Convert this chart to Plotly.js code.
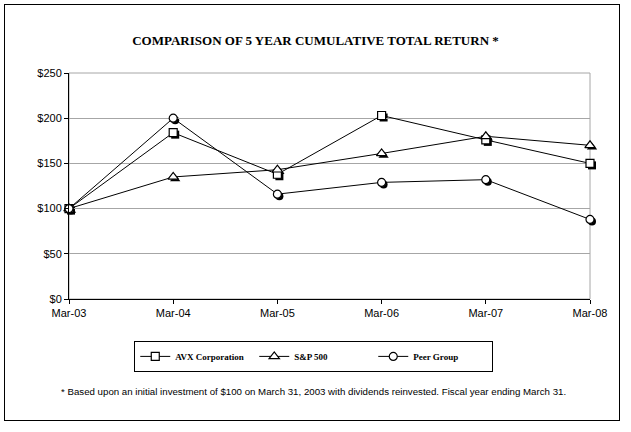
<!DOCTYPE html>
<html>
<head>
<meta charset="utf-8">
<script src="https://cdn.plot.ly/plotly-3.0.1.min.js"></script>
<style>
  html, body { margin: 0; padding: 0; background: #fff; }
  #wrap { position: relative; width: 631px; height: 432px; }
  #chart { position: absolute; left: 0; top: 0; width: 631px; height: 432px; }
  #frame { position: absolute; left: 4px; top: 4px; width: 614px; height: 415px;
           border: 1.5px solid #000; pointer-events: none; }
</style>
</head>
<body>
<div id="wrap">
  <div id="chart"></div>
  <div id="frame"></div>
</div>
<script>
const categories = ["Mar-03", "Mar-04", "Mar-05", "Mar-06", "Mar-07", "Mar-08"];
const avx = [100, 184, 138, 203, 176, 150];
const sp500 = [100, 135, 143, 161, 180, 170];
const peer = [100, 200, 116, 129, 132, 88];
const seriesNames = ["AVX Corporation", "S&P 500", "Peer Group"];
const yTicks = [0, 50, 100, 150, 200, 250];

const symbols = ["square", "triangle-up", "circle"];
const sizes = [8, 9, 8];
const data = [avx, sp500, peer];

const traces = [];
// shadows (drawn first, on the offset subplot)
data.forEach((vals, i) => {
  traces.push({
    x: categories, y: vals, xaxis: "x", yaxis: "y",
    mode: "markers", showlegend: false, hoverinfo: "skip", cliponaxis: false,
    marker: { symbol: symbols[i], size: sizes[i], color: "#000", line: { width: 0 } }
  });
});
// main series
data.forEach((vals, i) => {
  traces.push({
    x: categories, y: vals, xaxis: "x2", yaxis: "y2",
    name: seriesNames[i], type: "scatter", mode: "lines+markers", cliponaxis: false,
    line: { color: "#000", width: 1 },
    marker: { symbol: symbols[i], size: sizes[i], color: "#fff", line: { color: "#000", width: 1.2 } }
  });
});

const plotW = 523, plotH = 228;
const layout = {
  width: 631, height: 432,
  margin: { l: 69, r: 39, t: 73, b: 131 },
  paper_bgcolor: "#fff", plot_bgcolor: "rgba(0,0,0,0)",
  showlegend: true,
  title: {
    text: "COMPARISON OF 5 YEAR CUMULATIVE TOTAL RETURN *",
    font: { family: "Liberation Serif", size: 13, color: "#000", weight: "bold" },
    x: 0.5, xref: "container", xanchor: "center",
    y: 1 - 40 / 432, yref: "container", yanchor: "middle"
  },
  xaxis: {
    type: "category", range: [0, 5], domain: [2 / plotW, 1],
    visible: false, fixedrange: true
  },
  yaxis: {
    range: [0, 250], domain: [0, 226 / plotH],
    visible: false, fixedrange: true
  },
  xaxis2: {
    type: "category", range: [0, 5], domain: [0, 521 / plotW], anchor: "y2",
    showline: true, linecolor: "#000", linewidth: 1,
    ticks: "outside", ticklen: 4, tickcolor: "#000", tickwidth: 1,
    showgrid: false, zeroline: false,
    tickfont: { family: "Liberation Sans", size: 11, color: "#000" }
  },
  yaxis2: {
    range: [0, 250], domain: [2 / plotH, 1], anchor: "x2",
    tickvals: yTicks, ticktext: yTicks.map(v => "$" + v),
    showline: true, linecolor: "#000", linewidth: 1,
    ticks: "outside", ticklen: 4, tickcolor: "#000", tickwidth: 1,
    showgrid: true, gridcolor: "#a6a6a6", gridwidth: 1, zeroline: false,
    tickfont: { family: "Liberation Sans", size: 11, color: "#000" }
  },
  shapes: [{
    type: "rect", xref: "x2 domain", yref: "y2 domain",
    x0: 0, x1: 1, y0: 0, y1: 1,
    line: { color: "#a6a6a6", width: 1 }, layer: "below"
  }],
  legend: {
    orientation: "h", x: 0.468, xanchor: "center", xref: "paper",
    y: -0.243, yanchor: "middle",
    bordercolor: "#000", borderwidth: 1, bgcolor: "#fff",
    font: { family: "Liberation Serif", size: 9, color: "#000", weight: "bold" },
    itemwidth: 30,
    entrywidth: 74, entrywidthmode: "pixels",
    itemclick: false, itemdoubleclick: false
  },
  annotations: [{
    text: "* Based upon an initial investment of $100 on March 31, 2003 with dividends reinvested. Fiscal year ending March 31.",
    xref: "paper", yref: "paper", x: 0.468, xanchor: "center",
    y: -(390 - 300) / plotH, yanchor: "middle", showarrow: false,
    font: { family: "Liberation Sans", size: 9.7, color: "#000" }
  }]
};

Plotly.newPlot("chart", traces, layout, { displayModeBar: false, staticPlot: true });
</script>
</body>
</html>
